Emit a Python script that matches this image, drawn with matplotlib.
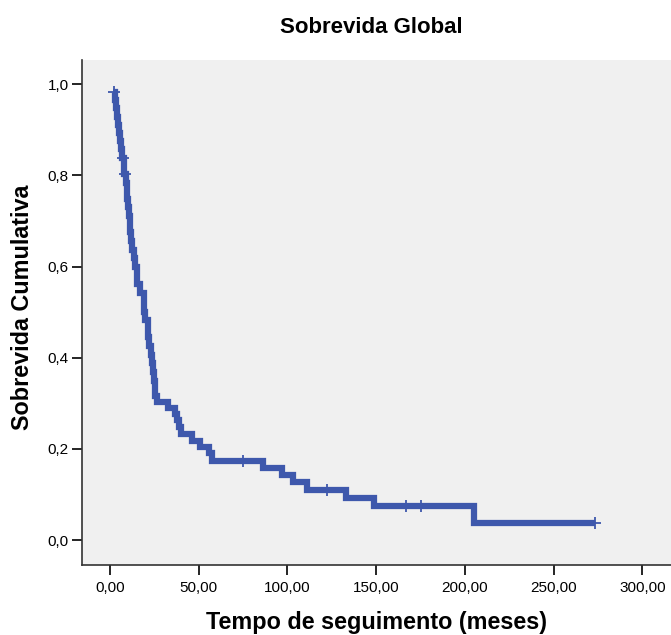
import numpy as np
import matplotlib
matplotlib.use("Agg")
import matplotlib.pyplot as plt
from matplotlib.ticker import FuncFormatter

plt.rcParams['font.family'] = ['Liberation Sans', 'DejaVu Sans']

# Kaplan-Meier steps (months, survival after the event)
start_time = 1.7
start_surv = 0.982
event_times = [2.9, 3.4, 3.9, 4.4, 4.9, 5.4, 5.9, 6.5, 7.6, 8.1,
               8.8, 9.3, 9.8, 10.2, 10.7, 11.2, 11.5, 11.8, 12.1, 13.5,
               13.8, 15.0, 15.3, 16.9, 19.0, 19.3, 19.6, 21.2, 21.5, 21.8,
               23.2, 23.6, 24.3, 24.7, 25.1, 25.6, 26.2, 32.9, 36.6, 37.8,
               39.0, 39.8, 46.0, 50.7, 55.9, 57.3, 86.4, 96.8, 103.0, 111.2,
               132.8, 148.8, 205.1]
surv = [0.965, 0.947, 0.929, 0.911, 0.893, 0.875, 0.857, 0.839, 0.821, 0.803,
        0.784, 0.766, 0.748, 0.730, 0.712, 0.693, 0.675, 0.656, 0.637, 0.618,
        0.599, 0.580, 0.562, 0.543, 0.520, 0.501, 0.483, 0.464, 0.445, 0.426,
        0.407, 0.388, 0.369, 0.350, 0.331, 0.317, 0.3035, 0.290, 0.277, 0.263,
        0.249, 0.232, 0.217, 0.203, 0.190, 0.174, 0.158, 0.142, 0.1265, 0.110,
        0.093, 0.0737, 0.037]
end_time = 273.3
censor_times = [2.3, 7.2, 8.5, 75.1, 122.5, 166.8, 175.1, 273.3]

x_ticks = [0, 50, 100, 150, 200, 250, 300]
y_ticks = [0.0, 0.2, 0.4, 0.6, 0.8, 1.0]

blue = '#3e58ac'

xs = np.array([start_time] + event_times + [end_time])
ys = np.array([start_surv] + surv + [surv[-1]])

fig = plt.figure(figsize=(6.71, 6.35), dpi=100)
ax = fig.add_axes([0.1218, 0.1102, 0.8782, 0.7953])
ax.set_facecolor('#f0f0f0')

ax.step(xs, ys, where='post', color=blue, lw=4.5,
        solid_joinstyle='miter', solid_capstyle='butt')

# censored cases
idx = np.searchsorted(xs, censor_times, side='right') - 1
ax.plot(censor_times, ys[idx], ls='none', marker='+', ms=8, mew=1.3,
        color=blue)

ax.set_xlim(-15.95, 316.1)
ax.set_ylim(-0.0549, 1.0533)
ax.set_xticks(x_ticks)
ax.set_yticks(y_ticks)
ax.xaxis.set_major_formatter(FuncFormatter(lambda v, p: f"{v:.2f}".replace('.', ',')))
ax.yaxis.set_major_formatter(FuncFormatter(lambda v, p: f"{v:.1f}".replace('.', ',')))
ax.tick_params(axis='both', direction='out', length=7.5, width=1.2,
               labelsize=11, colors='black')
ax.tick_params(axis='x', pad=4)
ax.tick_params(axis='y', pad=2)

for side in ['top', 'right']:
    ax.spines[side].set_visible(False)
for side in ['left', 'bottom']:
    ax.spines[side].set_linewidth(1.2)
    ax.spines[side].set_color('#333333')

ax.set_xlabel('Tempo de seguimento (meses)', fontsize=16.8, fontweight='bold')
ax.xaxis.set_label_coords(0.5, -0.113)
ax.xaxis.label.set_verticalalignment('center')
ax.set_ylabel('Sobrevida Cumulativa', fontsize=16.8, fontweight='bold')
ax.yaxis.set_label_coords(-0.101, 0.51)
ax.yaxis.label.set_verticalalignment('center')

ax.text(0.491, 1.065, 'Sobrevida Global', transform=ax.transAxes,
        ha='center', va='center', fontsize=16, fontweight='bold')

fig.savefig('out.png', dpi=100, facecolor='white')
